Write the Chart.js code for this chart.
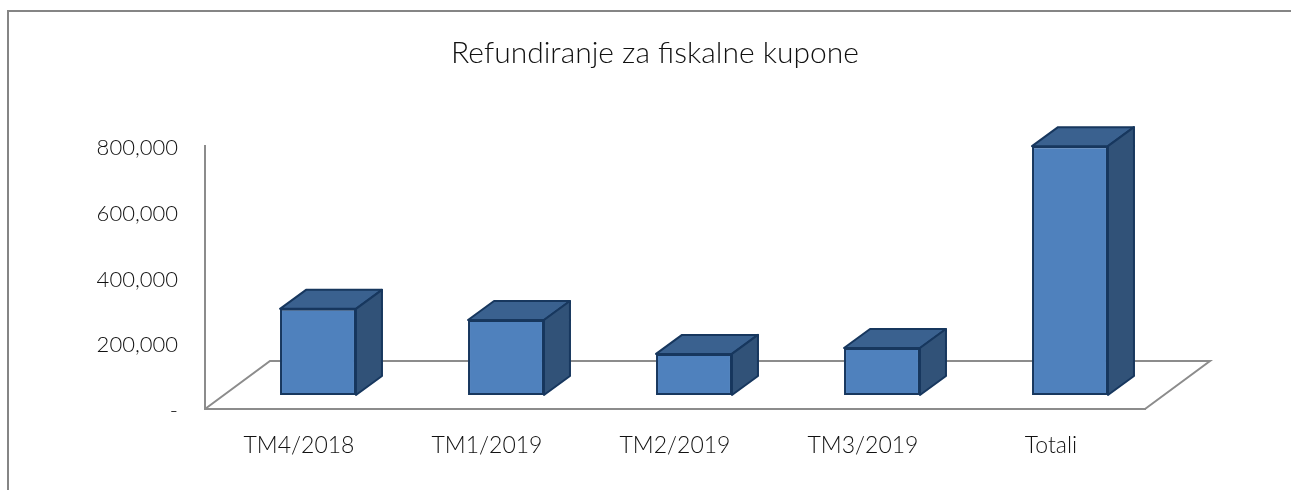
<!DOCTYPE html>
<html>
<head>
<meta charset="utf-8">
<title>Refundiranje za fiskalne kupone</title>
<script src="https://cdn.jsdelivr.net/npm/chart.js@4"></script>
<style>
  html, body { margin: 0; padding: 0; background: #fff; overflow: hidden; }
  #frame { position: absolute; left: 7px; top: 10px; right: 0; bottom: 0;
    border-left: 2px solid #858585; border-top: 2px solid #858585; }
  #wrap { position: absolute; left: 0; top: 0; width: 1291px; height: 490px; }
</style>
</head>
<body>
<div id="frame"></div>
<div id="wrap"><canvas id="refundChart" width="1291" height="490"></canvas></div>
<script>
const categories = ['TM4/2018', 'TM1/2019', 'TM2/2019', 'TM3/2019', 'Totali'];
const refunds = [262000, 228000, 125000, 143000, 757000];
const yTicks = [0, 200000, 400000, 600000, 800000];

const FONT = 'Lato, sans-serif';
const DEPTH_X = 26, DEPTH_Y = -19;   // bar extrusion
const SHIFT_X = 19, SHIFT_Y = -14;   // bars stand in the middle of the floor
const FLOOR_X = 65, FLOOR_Y = -48;

// Floor drawn behind the bars, its front and left edges come from the axes
const floorPlugin = {
  id: 'floor',
  beforeDatasetsDraw(chart) {
    const { ctx, chartArea: a } = chart;
    ctx.save();
    ctx.strokeStyle = '#8c8c8c';
    ctx.lineWidth = 2;
    ctx.beginPath();
    ctx.moveTo(a.left, a.bottom);
    ctx.lineTo(a.left + FLOOR_X, a.bottom + FLOOR_Y);
    ctx.lineTo(a.right + FLOOR_X, a.bottom + FLOOR_Y);
    ctx.lineTo(a.right, a.bottom);
    ctx.stroke();
    ctx.restore();
  }
};

// Top and side faces for each bar, then move the library's bar onto the floor
const bar3dPlugin = {
  id: 'bar3d',
  beforeDatasetDraw(chart, args) {
    const { ctx } = chart;
    ctx.save();
    ctx.translate(SHIFT_X, SHIFT_Y);
    ctx.lineWidth = 2;
    ctx.lineJoin = 'round';
    ctx.strokeStyle = '#17375e';
    args.meta.data.forEach(bar => {
      const { x, y, base, width } = bar.getProps(['x', 'y', 'base', 'width'], true);
      const l = x - width / 2, r = x + width / 2;
      ctx.fillStyle = '#3a618f';
      ctx.beginPath();
      ctx.moveTo(l, y);
      ctx.lineTo(l + DEPTH_X, y + DEPTH_Y);
      ctx.lineTo(r + DEPTH_X, y + DEPTH_Y);
      ctx.lineTo(r, y);
      ctx.closePath();
      ctx.fill();
      ctx.stroke();
      ctx.fillStyle = '#315278';
      ctx.beginPath();
      ctx.moveTo(r, y);
      ctx.lineTo(r + DEPTH_X, y + DEPTH_Y);
      ctx.lineTo(r + DEPTH_X, base + DEPTH_Y);
      ctx.lineTo(r, base);
      ctx.closePath();
      ctx.fill();
      ctx.stroke();
    });
  },
  afterDatasetDraw(chart) {
    chart.ctx.restore();
  }
};

new Chart(document.getElementById('refundChart'), {
  type: 'bar',
  data: {
    labels: categories,
    datasets: [{
      label: 'Refundiranje',
      data: refunds,
      backgroundColor: '#4f81bd',
      borderColor: '#17375e',
      borderWidth: 2,
      borderSkipped: false,
      barPercentage: 0.404,
      categoryPercentage: 1
    }]
  },
  options: {
    responsive: false,
    animation: false,
    layout: { padding: { top: 35, left: 19, right: 0, bottom: 0 } },
    plugins: {
      legend: { display: false },
      tooltip: { enabled: false },
      title: {
        display: true,
        text: 'Refundiranje za fiskalne kupone',
        color: '#111',
        font: { family: FONT, size: 30, weight: '300' },
        padding: { top: 0, bottom: 75 }
      }
    },
    scales: {
      x: {
        grid: { display: false },
        border: { color: '#8c8c8c', width: 2 },
        ticks: { color: '#111', font: { family: FONT, size: 23, weight: '300' }, padding: 15, maxRotation: 0 },
        afterFit(axis) { axis.height = 81; }
      },
      y: {
        min: 0,
        max: 800000,
        afterBuildTicks(axis) { axis.ticks = yTicks.map(value => ({ value })); },
        afterFit(axis) { axis.width = 186; },
        grid: { display: false },
        border: { color: '#8c8c8c', width: 2 },
        ticks: {
          color: '#111',
          font: { family: FONT, size: 22, weight: '300' },
          padding: 19,
          labelOffset: 2,
          callback: v => v === 0 ? '-' : v.toLocaleString('en-US')
        }
      },
      // empty axis keeps the floor's overhang free on the right, title stays centred on the full width
      rightGap: {
        position: 'right',
        grid: { display: false },
        border: { display: false },
        ticks: { display: false },
        afterFit(axis) { axis.width = 146; }
      }
    }
  },
  plugins: [floorPlugin, bar3dPlugin]
});
</script>
</body>
</html>
